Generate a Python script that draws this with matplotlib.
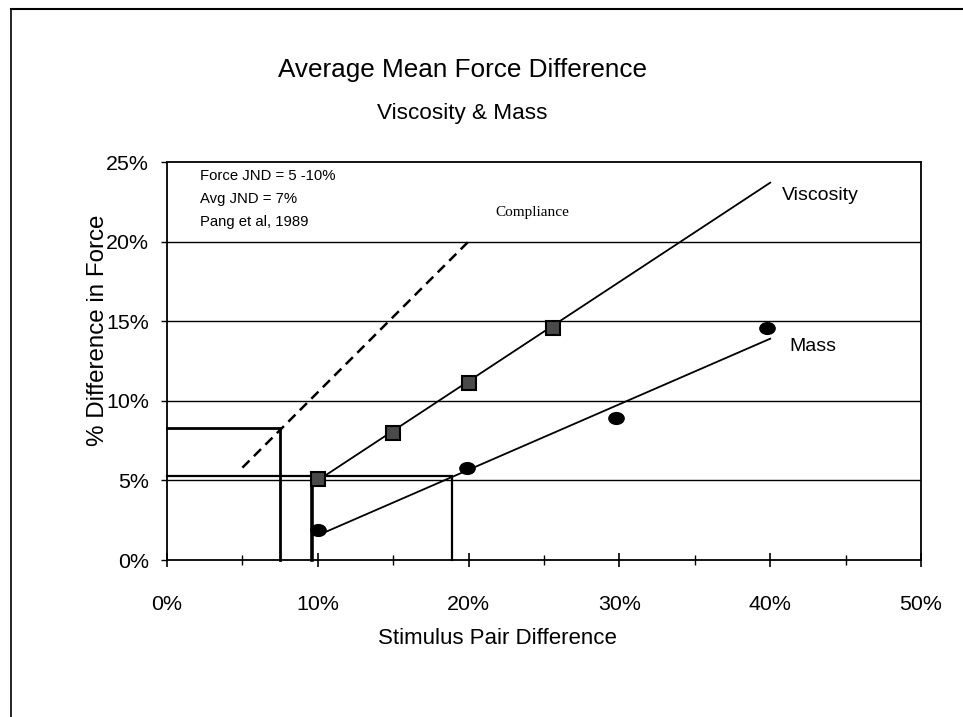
import numpy as np
import matplotlib
matplotlib.use('Agg')
import matplotlib.pyplot as plt
from matplotlib.path import Path
from matplotlib.ticker import MultipleLocator, FuncFormatter

# ---- data (percent) ----
visc_x = [10, 15, 20, 25.6]
visc_y = [5.1, 8.0, 11.1, 14.6]
visc_fit_x = [10, 40]
visc_fit_y = [5.0, 23.7]

mass_x = [10, 19.9, 29.8, 39.8]
mass_y = [1.9, 5.8, 8.9, 14.6]
mass_fit_x = [10, 40]
mass_fit_y = [1.55, 13.9]

comp_x = [5, 20.2]
comp_y = [5.8, 20.2]

# JND read-offs: (stimulus difference, force difference)
jnd_comp = (7.5, 8.3)
jnd_visc = (9.6, 5.3)
jnd_mass = (18.9, 5.3)

note_lines = ["Force JND = 5 -10%", "Avg JND = 7%", "Pang et al, 1989"]

SANS = ['Liberation Sans', 'DejaVu Sans']
SERIF = ['Liberation Serif', 'DejaVu Serif']

fig = plt.figure(figsize=(9.63, 7.17), dpi=100)
ax = fig.add_axes([167 / 963, 1 - 560 / 717, 754 / 963, 398 / 717])

ax.set_xlim(0, 50)
ax.set_ylim(0, 25)

# horizontal gridlines
for g in [5, 10, 15, 20]:
    ax.axhline(g, color='black', lw=1.0, zorder=1)

# drop lines from the JND points
ax.plot([0, jnd_comp[0], jnd_comp[0]], [jnd_comp[1], jnd_comp[1], 0],
        color='black', lw=2.0, solid_joinstyle='miter', clip_on=False, zorder=2)
ax.plot([0, jnd_mass[0], jnd_mass[0]], [jnd_mass[1], jnd_mass[1], 0],
        color='black', lw=1.6, solid_joinstyle='miter', clip_on=False, zorder=2)
ax.plot([jnd_visc[0], jnd_visc[0]], [jnd_visc[1], 0],
        color='black', lw=2.6, clip_on=False, zorder=2)

# trend lines
ax.plot(visc_fit_x, visc_fit_y, color='black', lw=1.3, zorder=3)
ax.plot(mass_fit_x, mass_fit_y, color='black', lw=1.3, zorder=3)
ax.plot(comp_x, comp_y, color='black', lw=1.8, ls=(0, (4, 2.5)), zorder=3)

# measured points
circ = Path.unit_circle()
ellipse = Path(circ.vertices * np.array([1.3, 1.0]), circ.codes)
ax.plot(visc_x, visc_y, ls='none', marker='s', ms=10, mfc='#4a4a4a',
        mec='black', mew=1.5, zorder=4)
ax.plot(mass_x, mass_y, ls='none', marker=ellipse, ms=11, mfc='black',
        mec='black', zorder=4)

# axes styling
for s in ax.spines.values():
    s.set_linewidth(1.3)
ax.xaxis.set_major_locator(MultipleLocator(10))
ax.xaxis.set_minor_locator(MultipleLocator(5))
ax.yaxis.set_major_locator(MultipleLocator(5))
pct = FuncFormatter(lambda v, p: '%d%%' % round(v))
ax.xaxis.set_major_formatter(pct)
ax.yaxis.set_major_formatter(pct)
ax.tick_params(axis='x', which='major', direction='inout', length=10, width=1.2, pad=20)
ax.tick_params(axis='x', which='minor', direction='inout', length=7, width=1.0)
ax.tick_params(axis='y', direction='out', length=4, width=1.0, pad=9)
for lab in ax.get_xticklabels() + ax.get_yticklabels():
    lab.set_family(SANS)
    lab.set_fontsize(15.4)

# annotations
for i, line in enumerate(note_lines):
    ax.text(2.2, 23.85 - 1.42 * i, line, family=SANS, fontsize=10.7, va='baseline')
ax.text(24.2, 21.8, 'Compliance', family=SERIF, fontsize=11, ha='center', va='center')
ax.text(40.8, 22.9, 'Viscosity', family=SANS, fontsize=14, va='center')
ax.text(41.3, 13.4, 'Mass', family=SANS, fontsize=14, va='center')

# titles and axis labels
fig.text(462 / 963, 1 - 70 / 717, 'Average Mean Force Difference', family=SANS,
         fontsize=18.8, ha='center', va='center')
fig.text(462 / 963, 1 - 114 / 717, 'Viscosity & Mass', family=SANS,
         fontsize=16.2, ha='center', va='center')
fig.text(98 / 963, 1 - 330 / 717, '% Difference in Force', family=SANS,
         fontsize=17.4, rotation=90, ha='center', va='center')
fig.text(497 / 963, 1 - 638 / 717, 'Stimulus Pair Difference', family=SANS,
         fontsize=16, ha='center', va='center')

# page frame (top and left edges)
fig.add_artist(plt.Line2D([11 / 963, 11 / 963], [0, 1 - 9 / 717],
                          color='black', lw=1.2, transform=fig.transFigure))
fig.add_artist(plt.Line2D([11 / 963, 1], [1 - 9 / 717, 1 - 9 / 717],
                          color='black', lw=1.5, transform=fig.transFigure))

fig.savefig('out.png', dpi=100)
